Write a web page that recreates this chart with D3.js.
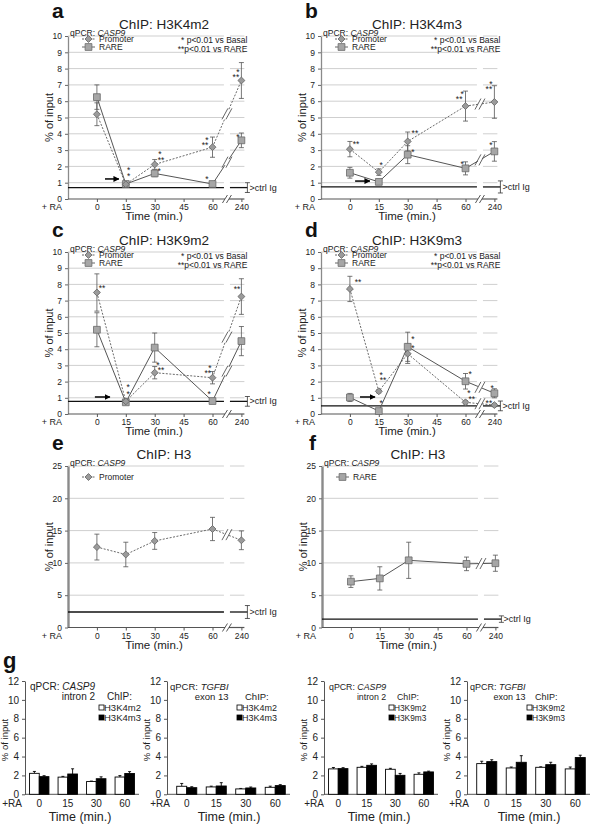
<!DOCTYPE html>
<html><head><meta charset="utf-8">
<script src="https://cdn.jsdelivr.net/npm/d3@7"></script>
<style>body{margin:0;background:#fff}svg{display:block}</style>
</head><body><svg id="fig" width="591" height="826"></svg>
<script>
const FONT='"Liberation Sans", Arial, Helvetica, sans-serif';
// ---------- DATA ----------
const timeCats=["0","15","30","45","60","240"];
const dataTimes=["0","15","30","60","240"];
const histTicks=[0,1,2,3,4,5,6,7,8,9,10];
const h3Ticks=[0,5,10,15,20,25];
const gTicks=[0,2,4,6,8,10,12];
const gTimes=["0","15","30","60"];

// a: H3K4m2
const aPromoter=[5.2,0.9,2.12,3.18,7.27];
const aPromoterErr=[0.7,0.1,0.3,0.62,1.1];
const aRare=[6.25,0.92,1.57,0.92,3.6];
const aRareErr=[0.75,0.1,0.2,0.1,0.45];
const aCtrl=[0.7,0.3];
const aStars=[[2.1,1.85,"*"],[2.1,1.47,"*"],[3.18,2.82,"*"],[3.22,2.45,"**"],[3.15,1.78,"*"],[4.81,3.68,"*"],[4.74,3.37,"**"],[4.81,1.29,"*"],[5.88,7.85,"*"],[5.81,7.58,"**"],[5.88,3.87,"*"]];
const aArrow=[1.28,1.76,1.23];
// b: H3K4m3
const bPromoter=[3.06,1.65,3.53,5.7,5.95];
const bPromoterErr=[0.47,0.2,0.58,0.92,1.0];
const bRare=[1.61,1.05,2.72,1.88,2.92];
const bRareErr=[0.33,0.1,0.55,0.4,0.6];
const bCtrl=[0.74,0.37];
const bStars=[[1.21,3.42,"**"],[2.08,2.15,"*"],[3.25,4.11,"**"],[3.18,2.94,"*"],[4.88,6.5,"*"],[4.78,6.2,"**"],[4.88,2.2,"*"],[5.88,7.12,"*"],[5.81,6.8,"**"],[5.88,3.37,"*"]];
const bArrow=[1.18,1.69,1.1];
// c: H3K9m2
const cPromoter=[7.5,0.78,2.55,2.24,7.25];
const cPromoterErr=[1.15,0.1,0.38,0.38,1.1];
const cRare=[5.2,0.72,4.1,0.8,4.5];
const cRareErr=[1.05,0.1,0.9,0.1,0.9];
const cCtrl=[0.78,0.3];
const cStars=[[1.18,7.84,"**"],[2.08,1.73,"*"],[2.08,1.3,"*"],[3.11,3.09,"*"],[3.22,2.78,"**"],[4.91,2.9,"*"],[4.84,2.59,"**"],[4.88,1.3,"*"],[5.85,7.78,"**"]];
const cArrow=[0.93,1.45,1.05];
// d: H3K9m3
const dPromoter=[7.72,1.4,3.72,0.72,0.55];
const dPromoterErr=[0.78,0.1,0.6,0.1,0.1];
const dRare=[1.02,0.18,4.15,2.02,1.28];
const dRareErr=[0.25,0.05,0.9,0.48,0.28];
const dCtrl=[0.5,0.3];
const dStars=[[1.28,8.2,"**"],[2.08,2.47,"*"],[2.15,2.16,"**"],[2.08,0.74,"*"],[3.18,4.69,"*"],[3.18,4.15,"*"],[5.16,2.55,"*"],[5.12,1.36,"*"],[5.22,0.99,"**"],[5.92,1.67,"*"],[5.81,0.74,"**"]];
const dArrow=[1.35,1.87,1.05];
// e: H3 promoter
const ePromoter=[12.45,11.3,13.4,15.25,13.5];
const ePromoterErr=[2.0,1.9,1.3,1.8,1.45];
const eCtrl=[2.4,1.0];
// f: H3 RARE
const fRare=[7.1,7.6,10.4,9.85,9.95];
const fRareErr=[0.9,1.8,2.8,1.05,1.25];
const fCtrl=[1.3,0.5];

// g bar charts
const g1White=[2.22,1.82,1.35,1.83], g1WhiteErr=[0.2,0.08,0.05,0.15];
const g1Black=[1.87,2.15,1.65,2.2],  g1BlackErr=[0.1,0.55,0.2,0.2];
const g2White=[0.85,0.78,0.57,0.74], g2WhiteErr=[0.3,0.08,0.05,0.12];
const g2Black=[0.7,0.88,0.67,0.92],  g2BlackErr=[0.1,0.35,0.1,0.1];
const g3White=[2.69,2.86,2.65,2.12], g3WhiteErr=[0.15,0.1,0.1,0.15];
const g3Black=[2.72,3.07,2.01,2.37], g3BlackErr=[0.1,0.15,0.2,0.08];
const g4White=[3.25,2.79,2.86,2.69], g4WhiteErr=[0.25,0.1,0.05,0.2];
const g4Black=[3.46,3.39,3.14,3.89], g4BlackErr=[0.2,0.7,0.25,0.25];

// ---------- LAYOUT ----------
const svg=d3.select("#fig").attr("font-family",FONT);
svg.append("defs").append("marker").attr("id","arr").attr("viewBox","0 0 10 10")
  .attr("refX",9).attr("refY",5).attr("markerWidth",6).attr("markerHeight",6)
  .attr("markerUnits","userSpaceOnUse").attr("orient","auto")
  .append("path").attr("d","M0,0L10,5L0,10Z").attr("fill","#000");

const linePanels=[
 {label:"a",lx:52,ly:18,title:"ChIP: H3K4m2",ox:68,y0:199,yTop:36,yMax:10,ticks:histTicks,yw:1.3,sig:true,
  series:[{name:"Promoter",v:aPromoter,e:aPromoterErr},{name:"RARE",v:aRare,e:aRareErr}],legY:[3,11],ctrl:aCtrl,stars:aStars,arrow:aArrow},
 {label:"b",lx:305,ly:18,title:"ChIP: H3K4m3",ox:321,y0:199,yTop:36,yMax:10,ticks:histTicks,yw:1.3,sig:true,
  series:[{name:"Promoter",v:bPromoter,e:bPromoterErr},{name:"RARE",v:bRare,e:bRareErr}],legY:[3,11],ctrl:bCtrl,stars:bStars,arrow:bArrow},
 {label:"c",lx:52,ly:237,title:"ChIP: H3K9m2",ox:68,y0:414,yTop:252,yMax:10,ticks:histTicks,yw:1.3,sig:true,
  series:[{name:"Promoter",v:cPromoter,e:cPromoterErr},{name:"RARE",v:cRare,e:cRareErr}],legY:[3,11],ctrl:cCtrl,stars:cStars,arrow:cArrow},
 {label:"d",lx:305,ly:237,title:"ChIP: H3K9m3",ox:321,y0:414,yTop:252,yMax:10,ticks:histTicks,yw:1.3,sig:true,
  series:[{name:"Promoter",v:dPromoter,e:dPromoterErr},{name:"RARE",v:dRare,e:dRareErr}],legY:[3,11],ctrl:dCtrl,stars:dStars,arrow:dArrow},
 {label:"e",lx:52,ly:450,title:"ChIP: H3",ox:68,y0:627.5,yTop:466,yMax:25,ticks:h3Ticks,yw:2.4,sig:false,
  series:[{name:"Promoter",v:ePromoter,e:ePromoterErr}],legY:[11],ctrl:eCtrl,stars:[],arrow:null},
 {label:"f",lx:309,ly:450,title:"ChIP: H3",ox:322,y0:627.5,yTop:466,yMax:25,ticks:h3Ticks,yw:2.4,sig:false,
  series:[{name:"RARE",v:fRare,e:fRareErr}],legY:[11],ctrl:fCtrl,stars:[],arrow:null}
];

function marker(sel,name,cx,cy){
  if(name==="Promoter"){
    sel.append("path").attr("d",d3.symbol().type(d3.symbolSquare).size(24)())
      .attr("transform",`translate(${cx},${cy}) rotate(45)`).attr("fill","#9b9b9b").attr("stroke","#666").attr("stroke-width",0.8);
  } else {
    sel.append("path").attr("d",d3.symbol().type(d3.symbolSquare).size(46)())
      .attr("transform",`translate(${cx},${cy})`).attr("fill","#a6a6a6").attr("stroke","#6a6a6a").attr("stroke-width",0.8);
  }
}
function slash(sel,cx,cy,h,w,col){
  [-2,2].forEach(o=>sel.append("line").attr("x1",cx+o-w).attr("y1",cy+h).attr("x2",cx+o+w).attr("y2",cy-h)
    .attr("stroke",col).attr("stroke-width",0.9));
}

function drawLine(p){
  const g=svg.append("g");
  const step=28.9;
  const x=d3.scalePoint().domain(["",...timeCats]).range([p.ox,p.ox+6*step]);
  const xl=d3.scaleLinear().domain([0,6]).range([p.ox,p.ox+6*step]);
  const y=d3.scaleLinear().domain([0,p.yMax]).range([p.y0,p.yTop]);
  const brk=(x("60")+x("240"))/2, gap=3, xEnd=x("240")+3;
  // grid
  const grid=p.ticks.filter(t=>t>0);
  g.selectAll(".g1").data(grid).join("line").attr("x1",p.ox).attr("x2",brk-gap).attr("y1",d=>y(d)).attr("y2",d=>y(d)).attr("stroke","#cfcfcf").attr("stroke-width",1);
  g.selectAll(".g2").data(grid).join("line").attr("x1",brk+gap).attr("x2",xEnd).attr("y1",d=>y(d)).attr("y2",d=>y(d)).attr("stroke","#cfcfcf").attr("stroke-width",1);
  // y axis
  const ya=g.append("g").attr("transform",`translate(${p.ox},0)`)
    .call(d3.axisLeft(y).tickValues(p.ticks).tickSize(3).tickSizeOuter(0).tickPadding(3));
  ya.select(".domain").attr("stroke","#8a8a8a").attr("stroke-width",p.yw);
  ya.selectAll(".tick line").attr("stroke","#666");
  ya.selectAll("text").attr("font-size",8.5).attr("fill","#222").attr("font-family",FONT);
  g.append("text").attr("transform",`translate(${p.ox-15},${(p.y0+p.yTop)/2}) rotate(-90)`)
    .attr("text-anchor","middle").attr("font-size",11).attr("fill","#222").text("% of input");
  // x axis
  const xa=g.append("g").attr("transform",`translate(0,${p.y0})`)
    .call(d3.axisBottom(x).tickValues(timeCats).tickSize(3).tickPadding(2));
  xa.select(".domain").remove();
  xa.selectAll(".tick line").attr("stroke","#555");
  xa.selectAll("text").attr("font-size",8.5).attr("fill","#222").attr("font-family",FONT);
  g.append("line").attr("x1",p.ox).attr("x2",brk-2).attr("y1",p.y0).attr("y2",p.y0).attr("stroke","#555").attr("stroke-width",1.2);
  g.append("line").attr("x1",brk+2).attr("x2",xEnd).attr("y1",p.y0).attr("y2",p.y0).attr("stroke","#555").attr("stroke-width",1.2);
  slash(g,brk,p.y0,4,2.5,"#444");
  g.append("text").attr("x",p.ox-16).attr("y",p.y0+11).attr("text-anchor","middle").attr("font-size",9).attr("fill","#222").text("+ RA");
  g.append("text").attr("x",p.ox+86).attr("y",p.y0+21).attr("text-anchor","middle").attr("font-size",11.5).attr("fill","#222").text("Time (min.)");
  // titles
  g.append("text").attr("x",p.lx).attr("y",p.ly).attr("font-size",21).attr("font-weight","bold").attr("fill","#111").text(p.label);
  g.append("text").attr("x",p.ox+96).attr("y",p.yTop-7).attr("text-anchor","middle").attr("font-size",13.5).attr("fill","#222").text(p.title);
  const q=g.append("text").attr("x",p.ox+2).attr("y",p.yTop-0.5).attr("font-size",8.5).attr("fill","#222");
  q.append("tspan").text("qPCR: ");
  q.append("tspan").attr("font-style","italic").text("CASP9");
  // ctrl Ig
  const cy=y(p.ctrl[0]), ex=x("240")+6;
  g.append("line").attr("x1",p.ox).attr("x2",brk-gap).attr("y1",cy).attr("y2",cy).attr("stroke","#111").attr("stroke-width",1.3);
  g.append("line").attr("x1",brk+gap).attr("x2",ex).attr("y1",cy).attr("y2",cy).attr("stroke","#111").attr("stroke-width",1.3);
  const ct=y(p.ctrl[0]+p.ctrl[1]), cb=y(p.ctrl[0]-p.ctrl[1]);
  g.append("line").attr("x1",ex).attr("x2",ex).attr("y1",ct).attr("y2",cb).attr("stroke","#333").attr("stroke-width",0.8);
  [ct,cb].forEach(v=>g.append("line").attr("x1",ex-2.5).attr("x2",ex+2.5).attr("y1",v).attr("y2",v).attr("stroke","#333").attr("stroke-width",0.8));
  g.append("text").attr("x",ex+2).attr("y",cy+3).attr("font-size",9).attr("fill","#222").text(">ctrl Ig");
  // legend
  p.series.forEach((s,i)=>{
    const ly=p.yTop+p.legY[i];
    g.append("line").attr("x1",p.ox+14).attr("x2",p.ox+27).attr("y1",ly).attr("y2",ly).attr("stroke","#555").attr("stroke-width",0.9)
      .attr("stroke-dasharray",s.name==="Promoter"?"2,1.5":null);
    marker(g,s.name,p.ox+20.5,ly);
    g.append("text").attr("x",p.ox+31).attr("y",ly+3).attr("font-size",8.5).attr("fill","#222").text(s.name);
  });
  if(p.sig){
    const sx=x("240")+6;
    g.append("text").attr("x",sx).attr("y",p.yTop+7).attr("text-anchor","end").attr("font-size",8.5).attr("fill","#222").text("* p<0.01 vs Basal");
    g.append("text").attr("x",sx).attr("y",p.yTop+15.5).attr("text-anchor","end").attr("font-size",8.5).attr("fill","#222").text("**p<0.01 vs RARE");
  }
  // series lines
  p.series.forEach(s=>{
    const pts=dataTimes.map((t,i)=>[x(t),y(s.v[i])]);
    const dash=s.name==="Promoter"?"2,1.5":null;
    const col=s.name==="Promoter"?"#6a6a6a":"#555";
    const line=d3.line();
    g.append("path").attr("d",line(pts.slice(0,4))).attr("fill","none").attr("stroke",col).attr("stroke-width",1).attr("stroke-dasharray",dash);
    const [p3,p4]=[pts[3],pts[4]];
    const at=xx=>p3[1]+(p4[1]-p3[1])*(xx-p3[0])/(p4[0]-p3[0]);
    g.append("path").attr("d",line([p3,[brk-2,at(brk-2)]])).attr("fill","none").attr("stroke",col).attr("stroke-width",1).attr("stroke-dasharray",dash);
    g.append("path").attr("d",line([[brk+2,at(brk+2)],p4])).attr("fill","none").attr("stroke",col).attr("stroke-width",1).attr("stroke-dasharray",dash);
    slash(g,brk,at(brk),5.5,3,"#555");
    // error bars
    dataTimes.forEach((t,i)=>{
      const xx=x(t), t1=y(s.v[i]+s.e[i]), b1=y(Math.max(0,s.v[i]-s.e[i]));
      g.append("line").attr("x1",xx).attr("x2",xx).attr("y1",t1).attr("y2",b1).attr("stroke","#555").attr("stroke-width",0.8);
      [t1,b1].forEach(v=>g.append("line").attr("x1",xx-2.5).attr("x2",xx+2.5).attr("y1",v).attr("y2",v).attr("stroke","#555").attr("stroke-width",0.8));
    });
  });
  p.series.slice().reverse().forEach(s=>{
    dataTimes.forEach((t,i)=>marker(g,s.name,x(t),y(s.v[i])));
  });
  // stars
  p.stars.forEach(s=>g.append("text").attr("x",xl(s[0])).attr("y",y(s[1])+4.2).attr("text-anchor","middle").attr("font-size",8.5).attr("fill","#222").text(s[2]));
  // arrow
  if(p.arrow){
    g.append("line").attr("x1",xl(p.arrow[0])).attr("x2",xl(p.arrow[1])).attr("y1",y(p.arrow[2])).attr("y2",y(p.arrow[2]))
      .attr("stroke","#000").attr("stroke-width",1.5).attr("marker-end","url(#arr)");
  }
}
linePanels.forEach(drawLine);

// ---------- g ----------
svg.append("text").attr("x",3).attr("y",668).attr("font-size",22).attr("font-weight","bold").attr("fill","#111").text("g");
const barPanels=[
 {ox:25,x0:25,x1:139,qx:30,rax:12,fs:10,chipX:107,gene:"CASP9",sub:"intron 2",leg:["H3K4m2","H3K4m3"],w:g1White,we:g1WhiteErr,b:g1Black,be:g1BlackErr},
 {ox:167,x0:172,x1:290,qx:170,rax:160,fs:9.5,chipX:245,gene:"TGFBI",sub:"exon 13",leg:["H3K4m2","H3K4m3"],w:g2White,we:g2WhiteErr,b:g2Black,be:g2BlackErr},
 {ox:324,x0:324,x1:438,qx:329,rax:314,fs:8.8,chipX:397,gene:"CASP9",sub:"intron 2",leg:["H3K9m2","H3K9m3"],w:g3White,we:g3WhiteErr,b:g3Black,be:g3BlackErr},
 {ox:467,x0:472,x1:590,qx:470,rax:459,fs:9,chipX:535,gene:"TGFBI",sub:"exon 13",leg:["H3K9m2","H3K9m3"],w:g4White,we:g4WhiteErr,b:g4Black,be:g4BlackErr}
];
function drawBar(p){
  const g=svg.append("g");
  const y=d3.scaleLinear().domain([0,12]).range([794.3,681]);
  const x=d3.scaleBand().domain(gTimes).range([p.x0,p.x1]).paddingInner(0.32).paddingOuter(0.16);
  const xs=d3.scaleBand().domain([0,1]).range([0,x.bandwidth()]);
  const ya=g.append("g").attr("transform",`translate(${p.ox},0)`)
    .call(d3.axisLeft(y).tickValues(gTicks).tickSize(3).tickSizeOuter(0).tickPadding(3));
  ya.select(".domain").attr("stroke","#555").attr("stroke-width",1);
  ya.selectAll(".tick line").attr("stroke","#555");
  ya.selectAll("text").attr("font-size",10).attr("fill","#222").attr("font-family",FONT);
  g.append("line").attr("x1",p.ox).attr("x2",p.x1).attr("y1",y(0)).attr("y2",y(0)).attr("stroke","#555").attr("stroke-width",1);
  g.append("text").attr("transform",`translate(${p.ox-17},740) rotate(-90)`).attr("text-anchor","middle").attr("font-size",9.5).attr("fill","#222").text("% of input");
  [[p.w,p.we,"#fff"],[p.b,p.be,"#000"]].forEach(([vals,errs,fill],j)=>{
    gTimes.forEach((t,i)=>{
      const bx=x(t)+xs(j), bw=xs.bandwidth(), cx=bx+bw/2;
      g.append("line").attr("x1",cx).attr("x2",cx).attr("y1",y(vals[i])).attr("y2",y(vals[i]+errs[i])).attr("stroke","#000").attr("stroke-width",0.9);
      g.append("line").attr("x1",cx-1.5).attr("x2",cx+1.5).attr("y1",y(vals[i]+errs[i])).attr("y2",y(vals[i]+errs[i])).attr("stroke","#000").attr("stroke-width",0.9);
      g.append("rect").attr("x",bx).attr("y",y(vals[i])).attr("width",bw).attr("height",y(0)-y(vals[i]))
        .attr("fill",fill).attr("stroke","#000").attr("stroke-width",0.9);
    });
  });
  gTimes.forEach(t=>g.append("text").attr("x",x(t)+x.bandwidth()/2).attr("y",806.5).attr("text-anchor","middle").attr("font-size",10).attr("fill","#222").text(t));
  g.append("text").attr("x",p.rax).attr("y",806.5).attr("text-anchor","middle").attr("font-size",10).attr("fill","#222").text("+RA");
  g.append("text").attr("x",(p.x0+p.x1)/2-2).attr("y",820.5).attr("text-anchor","middle").attr("font-size",12.5).attr("fill","#222").text("Time (min.)");
  const q=g.append("text").attr("x",p.qx).attr("y",690).attr("font-size",p.fs).attr("fill","#222");
  q.append("tspan").text("qPCR: ");
  q.append("tspan").attr("font-style","italic").text(p.gene);
  const qEnd=p.qx+q.node().getComputedTextLength();
  g.append("text").attr("x",qEnd).attr("y",700).attr("text-anchor","end").attr("font-size",p.fs).attr("fill","#222").text(p.sub);
  g.append("text").attr("x",p.chipX).attr("y",700).attr("font-size",p.fs).attr("fill","#222").text("ChIP:");
  p.leg.forEach((l,i)=>{
    const ly=705+10*i;
    g.append("rect").attr("x",p.chipX-8).attr("y",ly).attr("width",5).attr("height",5).attr("fill",i?"#000":"#fff").attr("stroke","#000").attr("stroke-width",0.8);
    g.append("text").attr("x",p.chipX-3).attr("y",ly+5.5).attr("font-size",p.fs-0.5).attr("fill","#222").text(l);
  });
}
barPanels.forEach(drawBar);
</script></body></html>
